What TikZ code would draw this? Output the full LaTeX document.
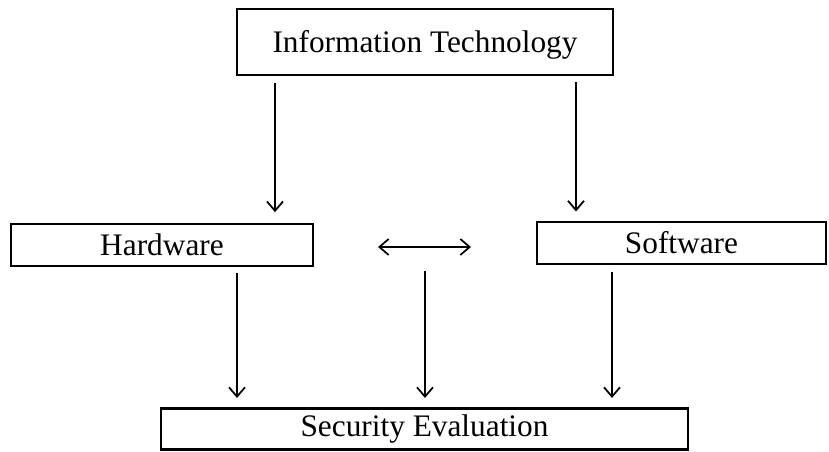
\documentclass[tikz,border=0pt]{standalone}
\usepackage{fontspec}
\setmainfont{Liberation Serif}
\usetikzlibrary{arrows.meta}

\tikzset{
    block/.style={draw, line width=1.8pt, inner sep=0pt, anchor=center},
    link/.style={-{Straight Barb[length=7pt,width=12pt]}, line width=1.3pt}
}

\begin{document}
\begin{tikzpicture}[x=0.75pt, y=-0.75pt, font=\fontsize{23.5}{28}\selectfont]

        \useasboundingbox (0,0) rectangle (829,452);

        % ==========================================
        % 1. Blocchi
        % ==========================================
        \node[block, minimum width=376*0.75pt, minimum height=66*0.75pt, text height=21pt] (info) at (425,42) {Information Technology};
        \node[block, minimum width=302*0.75pt, minimum height=42*0.75pt] (hard) at (162,245) {Hardware};
        \node[block, minimum width=289*0.75pt, minimum height=42*0.75pt] (soft) at (681.5,243) {Software};
        \node[block, minimum width=527*0.75pt, minimum height=41*0.75pt] (eval) at (424.5,429) {Security Evaluation};

        % ==========================================
        % 2. Colonne delle frecce
        % ==========================================
        \coordinate (colA) at (275,0);
        \coordinate (colB) at (576,0);
        \coordinate (colC) at (237,0);
        \coordinate (colD) at (425,271);
        \coordinate (colE) at (612,0);

        % ==========================================
        % 3. Frecce verso Hardware e Software
        % ==========================================
        \draw[link, shorten <=5pt, shorten >=8pt] (info.south -| colA) -- (hard.north -| colA);
        \draw[link, shorten <=4pt, shorten >=7pt] (info.south -| colB) -- (soft.north -| colB);

        % ==========================================
        % 4. Freccia doppia
        % ==========================================
        \coordinate (left) at (378,247);
        \coordinate (right) at (471,247);
        \draw[{Straight Barb[length=7pt,width=12pt]}-{Straight Barb[length=7pt,width=12pt]}, line width=1.3pt] (left) -- (right);

        % ==========================================
        % 5. Frecce verso Security Evaluation
        % ==========================================
        \draw[link, shorten <=4pt, shorten >=7pt] (hard.south -| colC) -- (eval.north -| colC);
        \draw[link, shorten >=7pt] (colD) -- (eval.north -| colD);
        \draw[link, shorten <=5pt, shorten >=7pt] (soft.south -| colE) -- (eval.north -| colE);

    \end{tikzpicture}
\end{document}
